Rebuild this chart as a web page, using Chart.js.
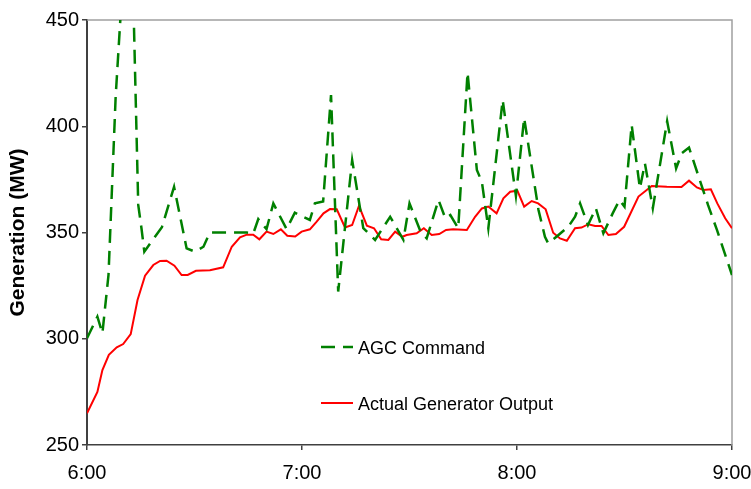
<!DOCTYPE html>
<html>
<head>
<meta charset="utf-8">
<script src="https://cdn.jsdelivr.net/npm/chart.js@4"></script>
<style>
  body { margin: 0; background: #fff; }
  #wrap { width: 751px; height: 489px; }
</style>
</head>
<body>
<div id="wrap"><canvas id="genChart" width="751" height="489"></canvas></div>
<script>
// minutes after 6:00 and MW values
const agcMinutes = [0, 2.9, 4.3, 6.0, 8.0, 12.0, 14.3, 15.2, 16.0, 20.9, 24.3, 27.8, 30.1, 32.5, 34.3,
  44.6, 46.4, 47.8, 50.1, 52.0, 55.7, 58.0, 62.2, 63.6, 65.9, 68.1, 70.1, 74.0, 77.1, 80.4, 84.6,
  88.3, 90.0, 93.1, 94.8, 98.1, 100.0, 101.4, 103.6, 106.2, 108.8, 110.2, 112.0, 116.0, 119.7,
  122.0, 126.0, 127.8, 128.7, 131.0, 134.3, 136.2, 137.6, 139.8, 142.0, 144.1, 146.7, 148.6,
  150.0, 152.0, 154.3, 155.7, 157.9, 161.9, 164.4, 166.0, 168.0, 173.3, 175.8, 180.0];
const agcValues = [300.2, 310.4, 302.6, 330, 414, 525, 363, 352, 341, 352.5, 371.5, 342.5, 341, 343.3, 350,
  350, 349.5, 356.3, 351.6, 363.7, 351.6, 359.3, 355.9, 363.7, 364.6, 414.7, 322.2, 384.1, 352.1, 346.5, 357.4,
  346.5, 363.7, 350.4, 347.3, 365.3, 356.7, 358.2, 352, 425.3, 379.4, 373.8, 352, 412.4, 367.2,
  403.9, 360.6, 348, 344.9, 348, 352.7, 357.4, 363.7, 353.5, 361.4, 349.6, 359, 365.3,
  362.2, 400.6, 370.8, 382.5, 361.4, 402.4, 380.2, 387.3, 390, 363, 351.2, 330];

const actualMinutes = [0, 2.9, 4.3, 6.1, 8.3, 10.1, 12.2, 14.1, 16.2, 18.5, 20.4, 22.2, 24.4, 26.4, 28.1,
  30.4, 34.3, 38.0, 40.4, 42.7, 44.6, 46.4, 48.1, 50.1, 52.0, 54.1, 55.9, 58.1, 59.9, 62.2, 64.1,
  66.0, 67.8, 69.7, 72.0, 74.0, 75.9, 78.1, 80.1, 82.1, 84.1, 86.0, 88.0, 89.2, 92.0, 94.0, 96.2,
  98.3, 100.2, 102.2, 106.0, 108.3, 110.2, 112.0, 114.3, 116.2, 118.1, 120.1, 122.0, 124.1, 125.9,
  128.0, 130.1, 132.0, 133.9, 136.2, 138.0, 139.9, 141.8, 143.6, 145.5, 147.6, 149.9, 153.9, 157.6,
  161.8, 165.9, 168.0, 170.2, 172.0, 174.1, 175.9, 178.1, 180.0];
const actualValues = [264.9, 275, 285.3, 292.4, 296, 297.5, 302.2, 318.2, 329.7, 334.7, 336.6, 336.7, 334.4, 330, 330,
  332, 332.2, 333.6, 343.3, 347.7, 349, 349, 346.8, 350.4, 349.3, 351.5, 348.5, 348.1, 350.4, 351.5, 355.1,
  359, 361, 360.9, 352.4, 353.5, 362.5, 353.2, 352, 346.8, 346.5, 350.4, 348, 348.8, 349.6, 352, 348.8,
  349.3, 351.2, 351.5, 351.2, 357.4, 361.3, 362.2, 359, 366.1, 369.2, 369.7, 362.2, 364.8, 363.7,
  360.9, 349.9, 347.2, 346.1, 352, 352.3, 353.9, 353.1, 353.1, 348.8, 349.3, 352.7, 366.9, 371.9,
  371.5, 371.4, 374.4, 371.2, 370, 370.3, 363.7, 356.7, 352];

const seriesNames = ['AGC Command', 'Actual Generator Output'];
const xTickMinutes = [0, 60, 120, 180];
const yTicks = [250, 300, 350, 400, 450];

const toPoints = (xs, ys) => xs.map((x, i) => ({ x: x, y: ys[i] }));

const FONT = "'Liberation Sans', Arial, sans-serif";
const AXIS_COLOR = '#404040';

// plot frame (grey top/right) + legend drawn inside the plot like the original
const framePlugin = {
  id: 'frame',
  beforeDatasetsDraw(chart) {
    const { ctx, chartArea: a } = chart;
    ctx.save();
    ctx.strokeStyle = '#a0a0a0';
    ctx.lineWidth = 1.5;
    ctx.beginPath();
    ctx.moveTo(a.left, a.top);
    ctx.lineTo(a.right, a.top);
    ctx.lineTo(a.right, a.bottom);
    ctx.stroke();
    ctx.restore();
  },
  afterDraw(chart) {
    const { ctx, chartArea: a } = chart;
    const x0 = a.left + 234;
    const rows = [a.top + 327, a.top + 383];
    ctx.save();
    chart.data.datasets.forEach((ds, i) => {
      const y = rows[i];
      ctx.strokeStyle = ds.borderColor;
      ctx.lineWidth = ds.borderWidth;
      ctx.setLineDash(ds.borderDash || []);
      ctx.beginPath();
      ctx.moveTo(x0, y);
      ctx.lineTo(x0 + 32, y);
      ctx.stroke();
      ctx.setLineDash([]);
      ctx.fillStyle = '#000';
      ctx.font = '18px ' + FONT;
      ctx.textBaseline = 'middle';
      ctx.fillText(ds.label, x0 + 37, y + 2);
    });
    ctx.restore();
  }
};

new Chart(document.getElementById('genChart'), {
  type: 'line',
  data: {
    datasets: [
      {
        label: seriesNames[0],
        data: toPoints(agcMinutes, agcValues),
        borderColor: '#008000',
        borderWidth: 2.5,
        borderDash: [14, 8],
        pointRadius: 0,
        tension: 0
      },
      {
        label: seriesNames[1],
        data: toPoints(actualMinutes, actualValues),
        borderColor: '#ff0000',
        borderWidth: 2,
        pointRadius: 0,
        tension: 0
      }
    ]
  },
  options: {
    responsive: false,
    animation: false,
    layout: { padding: { top: 20, right: 19, left: 0, bottom: 0 } },
    plugins: {
      legend: { display: false },
      tooltip: { enabled: false }
    },
    scales: {
      x: {
        type: 'linear',
        min: 0,
        max: 180,
        afterBuildTicks: s => { s.ticks = xTickMinutes.map(v => ({ value: v })); },
        ticks: {
          color: '#000',
          font: { family: FONT, size: 20 },
          padding: 11,
          maxRotation: 0,
          callback: v => (6 + v / 60) + ':00'
        },
        grid: { drawOnChartArea: false, drawTicks: true, tickLength: 5, color: AXIS_COLOR, lineWidth: 1.5 },
        border: { display: true, color: AXIS_COLOR, width: 1.5 },
        afterFit: s => { s.height = 44; s.paddingLeft = 0; s.paddingRight = 0; }
      },
      y: {
        min: 250,
        max: 450,
        afterBuildTicks: s => { s.ticks = yTicks.map(v => ({ value: v })); },
        ticks: {
          color: '#000',
          font: { family: FONT, size: 20 },
          padding: 3
        },
        grid: { drawOnChartArea: false, drawTicks: true, tickLength: 5, color: AXIS_COLOR, lineWidth: 1.5 },
        border: { display: true, color: AXIS_COLOR, width: 2 },
        title: {
          display: true,
          text: 'Generation (MW)',
          color: '#000',
          font: { family: FONT, size: 21, weight: 'bold' },
          padding: { top: 6, bottom: 0 }
        },
        afterFit: s => { s.width = 87; }
      }
    }
  },
  plugins: [framePlugin]
});
</script>
</body>
</html>
